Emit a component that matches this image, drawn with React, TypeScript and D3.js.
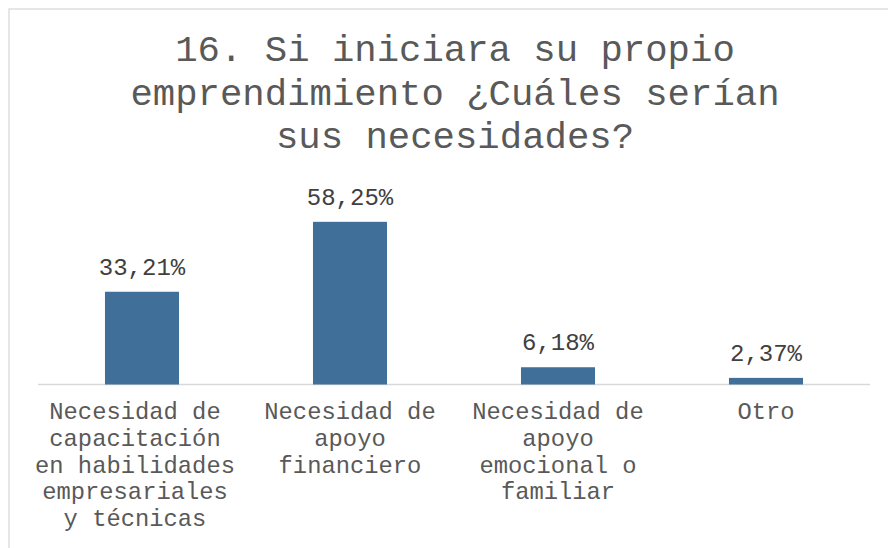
import React from "react";
import * as d3 from "d3";

const titleLines = ["16. Si iniciara su propio", "emprendimiento ¿Cuáles serían", "sus necesidades?"];
const categories = [
  ["Necesidad de", "capacitación", "en habilidades", "empresariales", "y técnicas"],
  ["Necesidad de", "apoyo", "financiero"],
  ["Necesidad de", "apoyo", "emocional o", "familiar"],
  ["Otro"],
];
const values = [33.21, 58.25, 6.18, 2.37];
const valueLabels = ["33,21%", "58,25%", "6,18%", "2,37%"];

export default function App() {
  const W = 888, H = 548;
  const left = 38, right = 870, baseline = 384.5, top = 189;
  const x = d3.scaleBand<number>().domain(values.map((_, i) => i)).range([left, right]).paddingInner(0.644).paddingOuter(0.322);
  const y = d3.scaleLinear().domain([0, 70]).range([baseline, top]);
  const font = "'Liberation Mono', 'DejaVu Sans Mono', monospace";
  // long multi-line first label is nudged left like the original renderer does
  const labelShift = (i: number) => (categories[i].length > 4 ? -7 : 0);
  return (
    <svg width={W} height={H} style={{ position: "absolute", left: 0, top: 0, background: "#fff" }} fontFamily={font}>
      <rect x={9} y={9} width={1200} height={1200} fill="#fff" stroke="#d9d9d9" strokeWidth={1.3} />
      {titleLines.map((t, i) => (
        <text key={i} x={455} y={61 + i * 43.5} textAnchor="middle" fontSize={37.3} fill="#595959">{t}</text>
      ))}
      <line x1={left} x2={right} y1={baseline} y2={baseline} stroke="#d9d9d9" strokeWidth={1.3} />
      {values.map((v, i) => (
        <g key={i}>
          <rect x={x(i)} y={y(v)} width={x.bandwidth()} height={baseline - y(v)} fill="#40709A" />
          <text x={x(i)! + x.bandwidth() / 2} y={y(v) - 17} textAnchor="middle" fontSize={24} fill="#404040">{valueLabels[i]}</text>
          {categories[i].map((l, j) => (
            <text key={j} x={x(i)! + x.bandwidth() / 2 + labelShift(i)} y={419 + j * 26.8} textAnchor="middle" fontSize={23.8} fill="#595959">{l}</text>
          ))}
        </g>
      ))}
    </svg>
  );
}
